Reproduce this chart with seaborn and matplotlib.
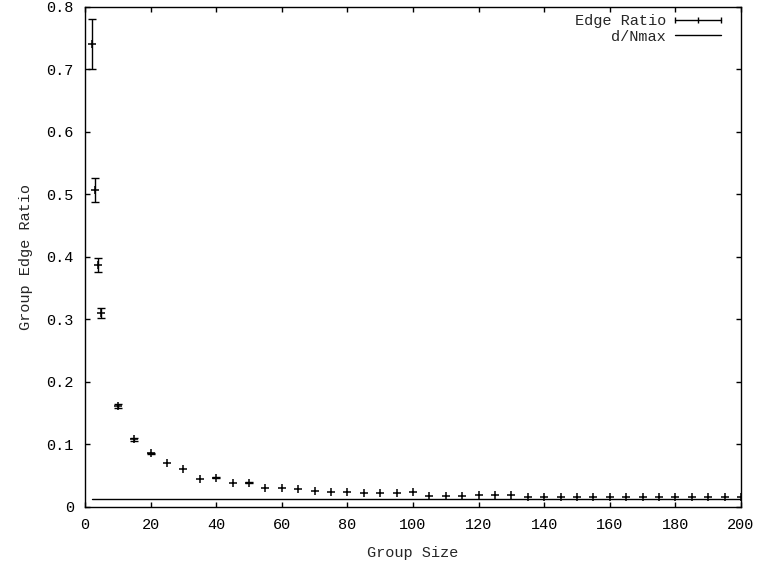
import numpy as np
import pandas as pd
import matplotlib
matplotlib.use("Agg")
import matplotlib.pyplot as plt
from matplotlib.lines import Line2D
import seaborn as sns

group_size = [2, 3, 4, 5, 10, 15, 20, 25, 30, 35, 40, 45, 50, 55, 60, 65, 70,
              75, 80, 85, 90, 95, 100, 105, 110, 115, 120, 125, 130, 135, 140,
              145, 150, 155, 160, 165, 170, 175, 180, 185, 190, 195, 200]
edge_ratio = [0.741, 0.507, 0.387, 0.311, 0.162, 0.108, 0.086, 0.070, 0.060,
              0.045, 0.047, 0.038, 0.039, 0.031, 0.030, 0.028, 0.026, 0.024,
              0.024, 0.022, 0.022, 0.022, 0.024, 0.018, 0.018, 0.018, 0.019,
              0.019, 0.019, 0.016, 0.016, 0.016, 0.016, 0.016, 0.016, 0.016,
              0.016, 0.016, 0.016, 0.016, 0.016, 0.016, 0.016]
ratio_err = [0.040, 0.019, 0.011, 0.008, 0.003, 0.002, 0.001, 0.0, 0.0,
             0.0, 0.001, 0.0, 0.001, 0.0, 0.0, 0.0, 0.0, 0.0,
             0.0, 0.0, 0.0, 0.0, 0.0, 0.0, 0.0, 0.0, 0.0,
             0.0, 0.0, 0.0, 0.0, 0.0, 0.0, 0.0, 0.0, 0.0,
             0.0, 0.0, 0.0, 0.0, 0.0, 0.0, 0.0]

# d/Nmax reference line
line_x = [2, 200]
d_over_nmax = [0.0135, 0.0135]

df = pd.DataFrame({"size": group_size, "ratio": edge_ratio, "err": ratio_err})
ref = pd.DataFrame({"size": line_x, "value": d_over_nmax})
bars = df[df["err"] > 0]

sns.set_style("ticks")
plt.rcParams["font.family"] = ["Liberation Mono", "DejaVu Sans Mono"]
plt.rcParams["font.size"] = 11

fig = plt.figure(figsize=(7.6, 5.69), dpi=100)
ax = fig.add_axes([0.1118, 0.109, 0.8632, 0.8787])

# error bars only where they are visible, then the points on top
ax.errorbar(bars["size"], bars["ratio"], yerr=bars["err"], fmt="none",
            ecolor="black", elinewidth=1, capsize=2.6, capthick=1)
sns.scatterplot(data=df, x="size", y="ratio", marker="+", s=40,
                color="black", linewidth=1.1, ax=ax, legend=False)
sns.lineplot(data=ref, x="size", y="value", color="black", linewidth=1,
             ax=ax, legend=False)

ax.set_xlim(0, 200)
ax.set_ylim(0, 0.8)
ax.set_xticks(np.arange(0, 201, 20))
ax.set_yticks(np.arange(0, 0.81, 0.1))
ax.set_yticklabels(["0", "0.1", "0.2", "0.3", "0.4", "0.5", "0.6", "0.7", "0.8"])
ax.tick_params(direction="in", top=True, right=True, length=3.5, width=1,
               pad=8, colors="black")
for s in ax.spines.values():
    s.set_linewidth(1)
    s.set_color("black")

ax.set_xlabel("Group Size", labelpad=10)
ax.set_ylabel("Group Edge Ratio", labelpad=10)

handles = [
    Line2D([], [], color="black", linewidth=1, marker="|", markersize=5),
    Line2D([], [], color="black", linewidth=1),
]
ax.legend(handles, ["Edge Ratio", "d/Nmax"], loc="upper right",
          bbox_to_anchor=(1.0, 1.016),
          frameon=False, markerfirst=False, numpoints=3, handlelength=3.6,
          handletextpad=0.3, borderaxespad=0.6, labelspacing=0.1)

fig.savefig("out.png", dpi=100)
